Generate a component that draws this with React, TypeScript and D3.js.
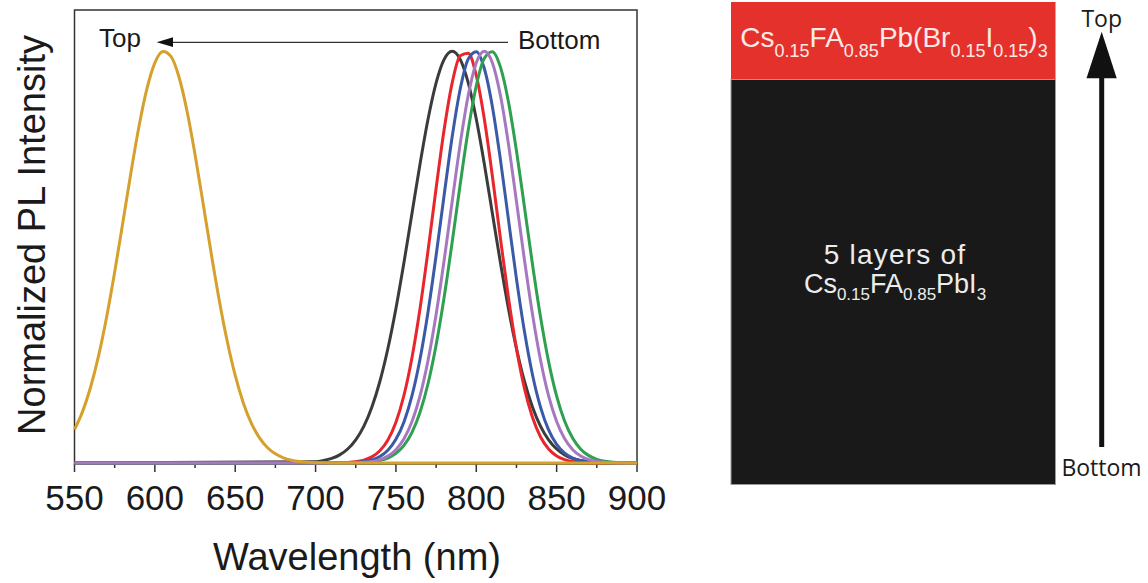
import React from "react";
import * as d3 from "d3";

const xTicks = [550, 600, 650, 700, 750, 800, 850, 900];
const xMinorTicks = [575, 625, 675, 725, 775, 825, 875];

const goldNm = [550, 555, 560, 565, 570, 575, 580, 585, 590, 595, 600, 605, 610, 615, 620, 625, 630, 635, 640, 645, 650, 655, 660, 665, 670, 675, 680, 685, 690, 695, 700, 705, 710, 900];
const goldPL = [0.0813, 0.1248, 0.184, 0.2606, 0.3546, 0.4636, 0.5822, 0.7026, 0.8148, 0.9077, 0.9716, 0.9992, 0.9873, 0.9373, 0.8549, 0.7492, 0.6308, 0.5103, 0.3966, 0.2962, 0.2125, 0.1465, 0.097, 0.0617, 0.0378, 0.0222, 0.0125, 0.0068, 0.0035, 0.0018, 0.0009, 0.0004, 0.0002, 0];

const nirNm = [550, 700, 705, 710, 715, 720, 725, 730, 735, 740, 745, 750, 755, 760, 765, 770, 775, 780, 785, 790, 795, 800, 805, 810, 815, 820, 825, 830, 835, 840, 845, 850, 855, 860, 865, 870, 875, 880, 885, 900];
const blackPL = [0, 0.0031, 0.006, 0.0111, 0.0198, 0.034, 0.0561, 0.0889, 0.1353, 0.1979, 0.278, 0.3753, 0.4868, 0.6065, 0.7261, 0.8353, 0.9231, 0.9802, 1.0, 0.9802, 0.9231, 0.8353, 0.7261, 0.6065, 0.4868, 0.3753, 0.278, 0.1979, 0.1353, 0.0889, 0.0561, 0.034, 0.0198, 0.0111, 0.006, 0.0031, 0.0015, 0.0007, 0.0003, 0];
const redPL = [0, 0, 0.0001, 0.0002, 0.0005, 0.0013, 0.0031, 0.007, 0.0149, 0.0299, 0.0561, 0.0991, 0.1645, 0.2564, 0.3753, 0.5163, 0.667, 0.8096, 0.9231, 0.9888, 0.995, 0.9406, 0.8353, 0.6968, 0.5461, 0.4021, 0.278, 0.1807, 0.1103, 0.0632, 0.034, 0.0172, 0.0082, 0.0037, 0.0015, 0.0006, 0.0002, 0.0001, 0, 0];
const bluePL = [0, 0, 0, 0.0001, 0.0002, 0.0006, 0.0015, 0.0035, 0.0076, 0.0159, 0.0311, 0.0574, 0.0998, 0.1635, 0.2526, 0.3675, 0.5037, 0.6505, 0.792, 0.9081, 0.9811, 0.9988, 0.958, 0.8659, 0.7372, 0.5916, 0.4471, 0.3185, 0.2138, 0.1352, 0.0805, 0.0452, 0.0239, 0.0119, 0.0056, 0.0025, 0.001, 0.0004, 0.0001, 0];
const greenPL = [0, 0, 0, 0, 0, 0.0002, 0.0005, 0.0012, 0.0027, 0.0058, 0.0119, 0.0232, 0.0427, 0.0745, 0.1232, 0.193, 0.2865, 0.4025, 0.5363, 0.677, 0.809, 0.9161, 0.9829, 0.9989, 0.9618, 0.8773, 0.7582, 0.6206, 0.4814, 0.3537, 0.2462, 0.1623, 0.1014, 0.06, 0.0336, 0.0179, 0.009, 0.0043, 0.0019, 0];
const purplePL = [0, 0, 0, 0, 0.0001, 0.0003, 0.0007, 0.0017, 0.0039, 0.0083, 0.0169, 0.0324, 0.0588, 0.1007, 0.163, 0.2494, 0.3606, 0.4922, 0.6353, 0.7749, 0.8928, 0.9721, 1.0, 0.9721, 0.8928, 0.7749, 0.6353, 0.4922, 0.3606, 0.2494, 0.163, 0.1007, 0.0588, 0.0324, 0.0169, 0.0083, 0.0039, 0.0017, 0.0007, 0];

const series = [
  { name: "layer1", nm: nirNm, pl: blackPL, color: "#3b3b3b" },
  { name: "layer2", nm: nirNm, pl: redPL, color: "#e8262b" },
  { name: "layer3", nm: nirNm, pl: bluePL, color: "#3a5aa8" },
  { name: "layer4", nm: nirNm, pl: greenPL, color: "#2f9f50" },
  { name: "layer5", nm: nirNm, pl: purplePL, color: "#a678c0" },
  { name: "top", nm: goldNm, pl: goldPL, color: "#d5a02c" },
];

const W = 1148;
const H = 583;
const plot = { left: 74.5, right: 637, top: 10, bottom: 464 };

export default function App() {
  const x = d3.scaleLinear().domain([550, 900]).range([plot.left, plot.right]);
  const y = d3.scaleLinear().domain([0, 1.1]).range([plot.bottom - 1, plot.top]);
  const line = d3
    .line<[number, number]>()
    .x((d) => x(d[0]))
    .y((d) => y(d[1]))
    .curve(d3.curveMonotoneX);

  const arial = "'Liberation Sans', Arial, sans-serif";
  const open = "'Open Sans', sans-serif";

  return (
    <svg
      width={W}
      height={H}
      style={{ position: "absolute", left: 0, top: 0, background: "#fff" }}
    >
      {/* frame */}
      <rect
        x={plot.left}
        y={plot.top}
        width={plot.right - plot.left}
        height={plot.bottom - plot.top}
        fill="none"
        stroke="#333"
        strokeWidth={1.5}
      />
      {/* ticks */}
      {xTicks.map((t) => (
        <g key={t}>
          <line x1={x(t)} x2={x(t)} y1={plot.bottom} y2={plot.bottom + 8} stroke="#333" strokeWidth={1.5} />
          <text x={x(t)} y={510} textAnchor="middle" fontFamily={arial} fontSize={35} fill="#1a1a1a">
            {t}
          </text>
        </g>
      ))}
      {xMinorTicks.map((t) => (
        <line key={t} x1={x(t)} x2={x(t)} y1={plot.bottom} y2={plot.bottom + 4} stroke="#333" strokeWidth={1.5} />
      ))}
      {/* curves */}
      {series.map((s) => (
        <path
          key={s.name}
          d={line(s.nm.map((v, i) => [v, s.pl[i]] as [number, number])) || ""}
          fill="none"
          stroke={s.color}
          strokeWidth={3}
        />
      ))}
      <text x={357} y={570} textAnchor="middle" fontFamily={arial} fontSize={38} fill="#1a1a1a">
        Wavelength (nm)
      </text>
      <text
        transform={`translate(45,235) rotate(-90)`}
        textAnchor="middle"
        fontFamily={arial}
        fontSize={38}
        fill="#1a1a1a"
      >
        Normalized PL Intensity
      </text>
      {/* in-plot arrow */}
      <line x1={172} x2={508} y1={42.3} y2={42.3} stroke="#333" strokeWidth={1.2} />
      <path d="M156.7,42.3 L173,37.3 L173,47 Z" fill="#111" />
      <text x={99} y={47} fontFamily={arial} fontSize={26} fill="#1a1a1a">Top</text>
      <text x={518} y={48.5} fontFamily={arial} fontSize={26} fill="#1a1a1a">Bottom</text>

      {/* right panel: device stack */}
      <rect x={731} y={2} width={324.5} height={77.5} fill="#e5312c" />
      <rect x={731} y={79.5} width={324.5} height={405} fill="#191919" stroke="#9a9a9a" strokeWidth={1} />
      <text x={894} y={46.7} textAnchor="middle" fontFamily={arial} fontSize={28} fill="#fbeae8">
        <tspan>Cs</tspan>
        <tspan fontSize={18} dy={10}>0.15</tspan>
        <tspan dy={-10}>FA</tspan>
        <tspan fontSize={18} dy={10}>0.85</tspan>
        <tspan dy={-10}>Pb(Br</tspan>
        <tspan fontSize={18} dy={10}>0.15</tspan>
        <tspan dy={-10}>I</tspan>
        <tspan fontSize={18} dy={10}>0.15</tspan>
        <tspan dy={-10}>)</tspan>
        <tspan fontSize={18} dy={10}>3</tspan>
      </text>
      <text x={895} y={264} textAnchor="middle" fontFamily={arial} fontSize={28} letterSpacing={1.2} fill="#ececec">
        5 layers of
      </text>
      <text x={895} y={293} textAnchor="middle" fontFamily={arial} fontSize={27} fill="#ececec">
        <tspan>Cs</tspan>
        <tspan fontSize={17} dy={7}>0.15</tspan>
        <tspan dy={-7}>FA</tspan>
        <tspan fontSize={17} dy={7}>0.85</tspan>
        <tspan dy={-7}>PbI</tspan>
        <tspan fontSize={17} dy={7}>3</tspan>
      </text>

      {/* right arrow */}
      <line x1={1101.7} x2={1101.7} y1={447} y2={76} stroke="#111" strokeWidth={5} />
      <path d="M1101.7,31.7 L1086.5,78.3 L1116.7,78.3 Z" fill="#111" />
      <text x={1101.7} y={26.7} textAnchor="middle" fontFamily={open} fontSize={23} fill="#1a1a1a">Top</text>
      <text x={1101.5} y={476} textAnchor="middle" fontFamily={open} fontSize={23} fill="#1a1a1a">Bottom</text>
    </svg>
  );
}
